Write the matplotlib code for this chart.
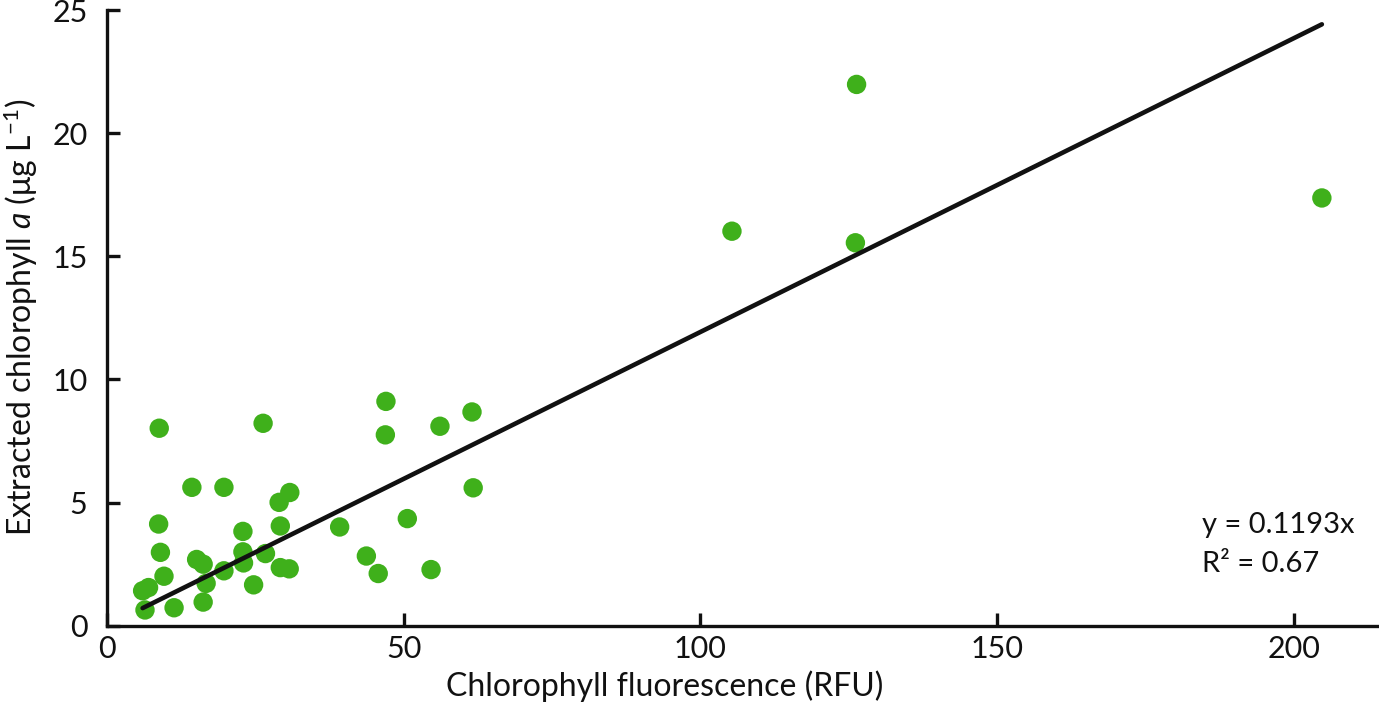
import matplotlib
matplotlib.use("Agg")
import matplotlib.pyplot as plt
import numpy as np

plt.rcParams["font.family"] = ["Lato", "DejaVu Sans"]
plt.rcParams["mathtext.fontset"] = "custom"
plt.rcParams["mathtext.rm"] = "Lato"
plt.rcParams["mathtext.it"] = "Lato:italic"

# fluorescence (RFU) vs extracted chlorophyll a (ug/L)
rfu = [8.8, 26.3, 47.0, 46.9, 56.1, 61.5, 61.7, 14.3, 19.7, 30.8,
       29.0, 29.2, 22.9, 8.7, 39.2, 50.6, 9.0, 15.1, 16.2, 22.9,
       23.0, 26.7, 19.7, 29.2, 30.7, 43.7, 45.7, 54.6, 9.6, 16.7,
       6.0, 7.0, 6.4, 11.3, 16.2, 24.7, 105.3, 126.3, 126.1, 204.7]
chla = [8.02, 8.22, 9.11, 7.75, 8.10, 8.68, 5.60, 5.62, 5.62, 5.41,
        5.01, 4.05, 3.83, 4.13, 4.01, 4.35, 2.98, 2.69, 2.50, 3.00,
        2.55, 2.93, 2.23, 2.36, 2.31, 2.83, 2.12, 2.28, 2.01, 1.72,
        1.42, 1.55, 0.64, 0.73, 0.96, 1.66, 16.02, 21.98, 15.55, 17.37]
slope = 0.1193
r2 = 0.67

fig = plt.figure(figsize=(13.79, 7.13), dpi=100)
ax = fig.add_axes([0.0776, 0.1224, 0.921, 0.8635])

ax.scatter(rfu, chla, s=195, color="#3fb01b", edgecolors="none", zorder=2)
xl = np.array([min(rfu), max(rfu)])
ax.plot(xl, slope * xl, color="#111111", lw=3.3, solid_capstyle="round", zorder=3)

ax.set_xlim(0, 214)
ax.set_ylim(0, 25)
ax.set_xticks([0, 50, 100, 150, 200])
ax.set_yticks([0, 5, 10, 15, 20, 25])
for side in ["top", "right"]:
    ax.spines[side].set_visible(False)
for side in ["left", "bottom"]:
    ax.spines[side].set_linewidth(2.4)
    ax.spines[side].set_color("#111111")
ax.tick_params(direction="in", length=9.5, width=2.4, color="#111111",
               labelsize=22, labelcolor="#111111")
ax.tick_params(axis="x", pad=7)
ax.tick_params(axis="y", pad=14)

ax.set_xlabel("Chlorophyll fluorescence (RFU)", fontsize=23, color="#111111")
ax.xaxis.set_label_coords(0.439, -0.072)
ax.set_ylabel(r"Extracted chlorophyll $\mathit{a}$ (μg L$^{-1}$)", fontsize=23,
              labelpad=9, color="#111111")

ax.text(0.862, 0.150, f"y = {slope}x", transform=ax.transAxes, fontsize=21,
        ha="left", va="baseline", color="#111111")
ax.text(0.862, 0.087, f"R² = {r2}", transform=ax.transAxes, fontsize=21,
        ha="left", va="baseline", color="#111111")

fig.savefig("out.png", dpi=100)
